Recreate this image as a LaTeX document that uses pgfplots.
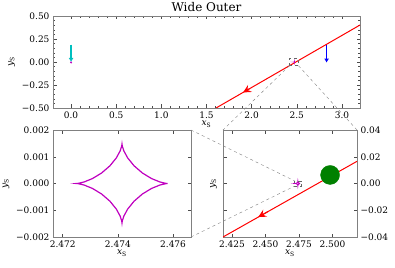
\documentclass[border=0pt]{standalone}
\usepackage{pgfplots}
\pgfplotsset{compat=1.18}
\usepackage{fontspec}
\setmainfont{DejaVu Serif}
\usetikzlibrary{arrows.meta}
\definecolor{mplm}{rgb}{0.75,0,0.75}
\definecolor{mplc}{rgb}{0,0.75,0.75}
\definecolor{mplg}{rgb}{0,0.5,0}

\pgfplotsset{
  common/.style={
    scale only axis,
    anchor=south west,
    axis line style={gray},
    every tick/.style={gray!60!black},
    tick align=inside,
    major tick length=3.5pt,
    minor tick length=2pt,
    scaled ticks=false,
    tick label style={font=\fontsize{9}{10}\selectfont},
    label style={font=\fontsize{9}{10}\selectfont},
    /pgf/number format/assume math mode=true,
  }
}
\newcommand{\xs}{\textit{x}\textsubscript{S}}
\newcommand{\ys}{\textit{y}\textsubscript{S}}

\pgfplotstableread{
x y
2.475800 0
2.475726 0.0000077
2.475519 0.0000588
2.475222 0.000184
2.474892 0.000390
2.474588 0.000661
2.474356 0.000955
2.474216 0.001220
2.474159 0.001404
2.474150 0.001470
2.474141 0.001404
2.474084 0.001220
2.473944 0.000955
2.473712 0.000661
2.473408 0.000390
2.473078 0.000184
2.472781 0.0000588
2.472574 0.0000077
2.472500 0
2.472574 -0.0000077
2.472781 -0.0000588
2.473078 -0.000184
2.473408 -0.000390
2.473712 -0.000661
2.473944 -0.000955
2.474084 -0.001220
2.474141 -0.001404
2.474150 -0.001470
2.474159 -0.001404
2.474216 -0.001220
2.474356 -0.000955
2.474588 -0.000661
2.474892 -0.000390
2.475222 -0.000184
2.475519 -0.0000588
2.475726 -0.0000077
2.475800 0
}\caustic

\begin{document}
\begin{tikzpicture}
\useasboundingbox (0,0) rectangle (395pt,267pt);

% ---------------- top panel ----------------
\begin{axis}[common, at={(53pt,159pt)}, width=307pt, height=92pt,
  xmin=-0.2, xmax=3.2, ymin=-0.5, ymax=0.5,
  xtick={0,0.5,1,1.5,2,2.5,3}, xticklabels={0.0,0.5,1.0,1.5,2.0,2.5,3.0},
  ytick={-0.5,-0.25,0,0.25,0.5}, yticklabels={−0.50,−0.25,0.00,0.25,0.50},
  minor x tick num=4, minor y tick num=4,
  xlabel={\xs}, ylabel={\ys},
  xlabel style={yshift=4pt},
  title={Wide Outer}, title style={font=\fontsize{12}{13}\selectfont, yshift=-5pt}]
  \addplot[red, line width=1pt] coordinates {(1.606,-0.5) (3.2,0.402)};
  \addplot[red, line width=1pt, -{Stealth[length=8pt,width=8pt,inset=3pt]}] coordinates {(1.98,-0.2887) (1.905,-0.3311)};
  \addplot[mplm, only marks, mark=*, mark size=0.8pt] coordinates {(0,-0.005)};
  \addplot[mplc, line width=1.5pt, -{Latex[length=4pt,width=5pt]}] coordinates {(0,0.19) (0,0.0)};
  \addplot[blue, line width=1.5pt, -{Latex[length=4pt,width=5pt]}] coordinates {(2.83,0.19) (2.83,-0.007)};
  \addplot[mplm, line width=0.8pt] table {\caustic};
  \addplot[gray!80!black, dashed, line width=0.5pt] coordinates {(2.4183,-0.04) (2.5183,-0.04) (2.5183,0.04) (2.4183,0.04) (2.4183,-0.04)};
  \coordinate (tBL) at (axis cs:2.4183,-0.04);
  \coordinate (tBR) at (axis cs:2.5183,-0.04);
\end{axis}

% ---------------- lower left ----------------
\begin{axis}[common, at={(53pt,30pt)}, width=138pt, height=107pt,
  xmin=2.47165, xmax=2.47665, ymin=-0.002, ymax=0.002,
  xtick={2.472,2.474,2.476}, xticklabels={2.472,2.474,2.476},
  ytick={-0.002,-0.001,0,0.001,0.002}, yticklabels={−0.002,−0.001,0.000,0.001,0.002},
  xlabel={\xs}, ylabel={\ys}, xlabel style={yshift=4pt}]
  \addplot[mplm, line width=1.2pt] table {\caustic};
  \coordinate (lTR) at (rel axis cs:1,1);
  \coordinate (lBR) at (rel axis cs:1,0);
\end{axis}

% ---------------- lower right ----------------
\begin{axis}[common, at={(223pt,30pt)}, width=134pt, height=107pt,
  xmin=2.4183, xmax=2.5183, ymin=-0.04, ymax=0.04,
  xtick={2.425,2.45,2.475,2.5}, xticklabels={2.425,2.450,2.475,2.500},
  ytick={-0.04,-0.02,0,0.02,0.04}, yticklabels={−0.04,−0.02,0.00,0.02,0.04},
  yticklabel pos=right,
  xlabel={\xs}, ylabel={\ys}, xlabel style={yshift=4pt},
  ylabel style={at={(axis description cs:-0.02,0.5)}, anchor=south}]
  \addplot[red, line width=1pt] coordinates {(2.4183,-0.04) (2.5183,0.0166)};
  \addplot[red, line width=1pt, -{Stealth[length=8pt,width=8pt,inset=3pt]}] coordinates {(2.452,-0.0209) (2.4446,-0.0251)};
  \addplot[mplg, only marks, mark=*, mark size=9.5pt] coordinates {(2.4982,0.0064)};
  \addplot[mplm, line width=1pt] table {\caustic};
  \addplot[gray!80!black, dashed, line width=0.5pt] coordinates {(2.47165,-0.002) (2.47665,-0.002) (2.47665,0.002) (2.47165,0.002) (2.47165,-0.002)};
  \coordinate (sTL) at (axis cs:2.47165,0.002);
  \coordinate (sBL) at (axis cs:2.47165,-0.002);
  \coordinate (rTL) at (rel axis cs:0,1);
  \coordinate (rTR) at (rel axis cs:1,1);
\end{axis}

\draw[gray, dashed, line width=0.4pt] (tBL) -- (rTL);
\draw[gray, dashed, line width=0.4pt] (tBR) -- (rTR);
\draw[gray, dashed, line width=0.4pt] (lTR) -- (sTL);
\draw[gray, dashed, line width=0.4pt] (lBR) -- (sBL);
\end{tikzpicture}
\end{document}
